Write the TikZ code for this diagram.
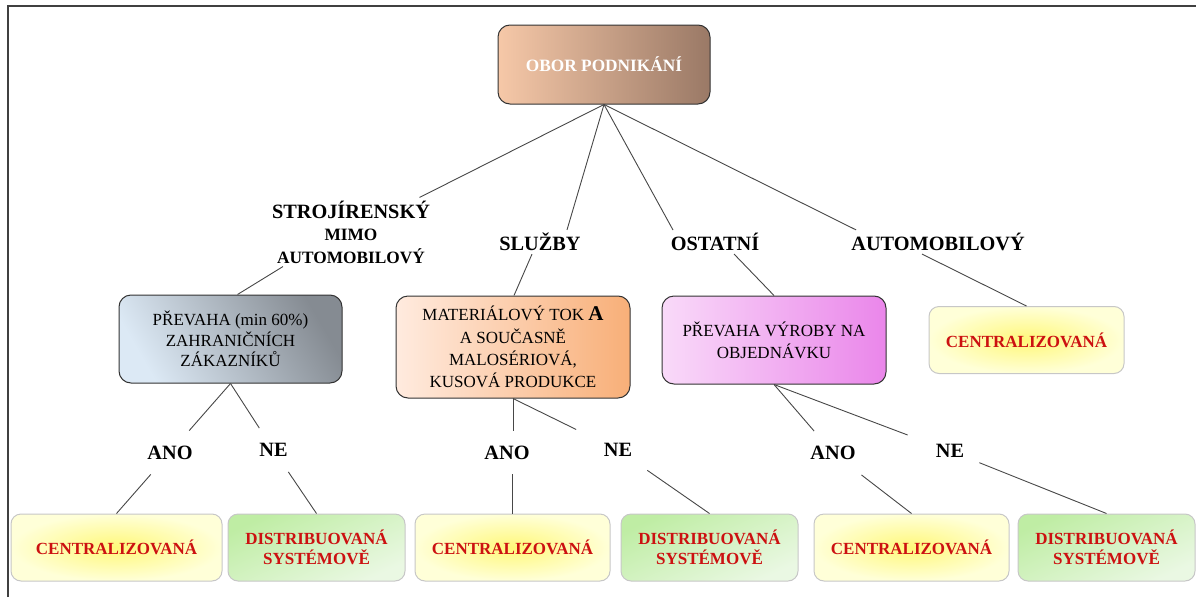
\documentclass[tikz,border=0pt]{standalone}
\usepackage{fontspec}
\setmainfont{Liberation Serif}
\definecolor{oborlight}{HTML}{F6C8A8}
\definecolor{obordark}{HTML}{9A7966}
\definecolor{steellight}{HTML}{DCE9F5}
\definecolor{steeldark}{HTML}{858B92}
\definecolor{peachlight}{HTML}{FFEBDF}
\definecolor{peachdark}{HTML}{F8AF78}
\definecolor{pinklight}{HTML}{F9DAF9}
\definecolor{pinkdark}{HTML}{EA86EA}
\definecolor{leafyellow}{HTML}{FFF87A}
\definecolor{leafpale}{HTML}{FFFFD8}
\definecolor{leafgreen}{HTML}{BFEDA4}
\definecolor{leafmint}{HTML}{EAF8E3}
\definecolor{leafred}{HTML}{CC1111}
\begin{document}
\begin{tikzpicture}[
  x=1pt, y=-1pt,
  every node/.style={align=center},
  main box/.style={draw=black!80, line width=1pt, rounded corners=12pt, font=\fontsize{17}{20.5}\selectfont, inner sep=0pt},
  leaf box/.style={draw=black!22, line width=1pt, rounded corners=10pt, minimum height=67pt, inner sep=0pt, text=leafred, font=\fontsize{17}{20}\selectfont\bfseries},
  yes box/.style={leaf box, inner color=leafyellow, outer color=leafpale, minimum width=195pt},
  no box/.style={leaf box, top color=leafgreen, bottom color=leafmint, shading angle=25, minimum width=177pt},
  branch label/.style={font=\fontsize{20.3}{22.5}\selectfont\bfseries, inner sep=3pt},
  answer label/.style={font=\fontsize{20.3}{22}\selectfont\bfseries, inner sep=15pt, text height=13.5pt, text depth=0pt},
  solid edge/.style={draw=black!72, line width=0.9pt}
]
\useasboundingbox (0,0) rectangle (1196,597);
\draw[black!75, line width=2pt] (8,597) -- (8,6) -- (1196,6);
% Define the nodes
\node[main box, minimum width=212pt, minimum height=79pt, left color=oborlight, right color=obordark, text=white, font=\fontsize{17.3}{20}\selectfont\bfseries] (obor) at (604,64.5) {OBOR PODNIKÁNÍ};
\node[branch label, font=\fontsize{17.3}{22.5}\selectfont\bfseries] (stroj) at (351,232) {{\fontsize{20.3}{22.5}\selectfont STROJÍRENSKÝ}\\MIMO\\AUTOMOBILOVÝ};
\node[branch label] (sluzby) at (540,242) {SLUŽBY};
\node[branch label] (ostatni) at (715,242) {OSTATNÍ};
\node[branch label] (automob) at (938,242) {AUTOMOBILOVÝ};
\node[main box, minimum width=223pt, minimum height=88pt, left color=steellight, right color=steeldark, shading angle=120] (prevaha) at (230.5,339) {PŘEVAHA (min 60\%)\\ZAHRANIČNÍCH\\ZÁKAZNÍKŮ};
\node[main box, minimum width=234pt, minimum height=102pt, left color=peachlight, right color=peachdark, font=\fontsize{17}{22.3}\selectfont] (material) at (513,347) {MATERIÁLOVÝ TOK {\fontsize{21}{22}\selectfont\bfseries A}\\A SOUČASNĚ\\MALOSÉRIOVÁ,\\KUSOVÁ PRODUKCE};
\node[main box, minimum width=224pt, minimum height=88pt, left color=pinklight, right color=pinkdark, font=\fontsize{17}{22}\selectfont] (vyroba) at (774,340) {PŘEVAHA VÝROBY NA\\OBJEDNÁVKU};
\node[yes box] (centr0) at (1026.5,340) {CENTRALIZOVANÁ};
\node[answer label] (ano1) at (170,452.5) {ANO};
\node[answer label] (ne1) at (273.5,450) {NE};
\node[answer label] (ano2) at (507,452.5) {ANO};
\node[answer label] (ne2) at (618,450) {NE};
\node[answer label] (ano3) at (833,453) {ANO};
\node[answer label] (ne3) at (950,451) {NE};
\node[yes box, minimum width=211pt] (centr1) at (116.5,547.5) {CENTRALIZOVANÁ};
\node[no box] (distr1) at (316.5,547.5) {DISTRIBUOVANÁ\\SYSTÉMOVĚ};
\node[yes box] (centr2) at (512.5,547.5) {CENTRALIZOVANÁ};
\node[no box] (distr2) at (709.5,547.5) {DISTRIBUOVANÁ\\SYSTÉMOVĚ};
\node[yes box] (centr3) at (911.5,547.5) {CENTRALIZOVANÁ};
\node[no box] (distr3) at (1106.5,547.5) {DISTRIBUOVANÁ\\SYSTÉMOVĚ};
% Define the edges
\path[solid edge] (obor.south) edge (stroj);
\path[solid edge] (obor.south) edge ([xshift=27pt]sluzby.north);
\path[solid edge] (obor.south) edge ([xshift=-42pt]ostatni.north);
\path[solid edge] (obor.south) edge ([xshift=8pt]automob.north west);
\path[solid edge] ([xshift=-68pt]stroj.south) edge ([xshift=7pt]prevaha.north);
\path[solid edge] ([xshift=-8pt]sluzby.south) edge ([xshift=1pt]material.north);
\path[solid edge] ([xshift=19pt]ostatni.south) edge (vyroba.north);
\path[solid edge] ([xshift=-16pt]automob.south) edge (centr0.north);
\path[solid edge] (prevaha.south) edge (ano1);
\path[solid edge] (prevaha.south) edge (ne1);
\path[solid edge] (material.south) edge (material.south |- ano2.north);
\path[solid edge] (material.south) edge[shorten >=14pt] (ne2);
\path[solid edge] (vyroba.south) edge (ano3);
\path[solid edge] (vyroba.south) edge[shorten >=14pt] (ne3);
\path[solid edge] (ano1) edge (centr1.north);
\path[solid edge] (ne1) edge (distr1.north);
\path[solid edge] (centr2.north |- ano2.south) edge (centr2.north);
\path[solid edge] (ne2) edge (distr2.north);
\path[solid edge] (ano3) edge (centr3.north);
\path[solid edge] (ne3) edge (distr3.north);
\end{tikzpicture}
\end{document}
